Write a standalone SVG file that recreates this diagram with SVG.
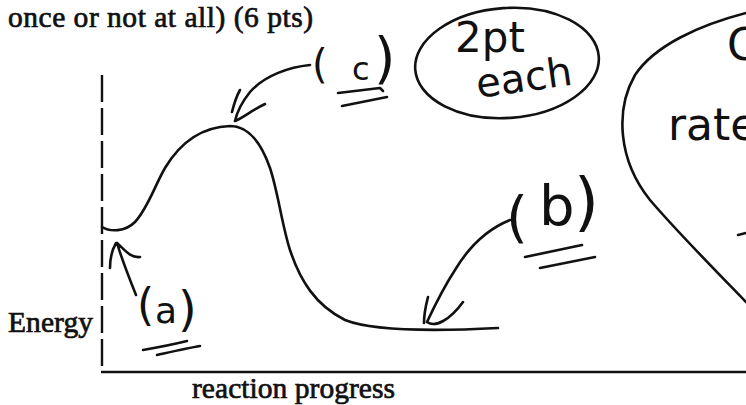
<svg xmlns="http://www.w3.org/2000/svg" width="746" height="405" viewBox="0 0 746 405">
<style>
.print{font-family:"Liberation Serif","Times New Roman",serif;font-size:29.5px;fill:#111;stroke:#111;stroke-width:0.7}
.hand{font-family:"DejaVu Sans","Liberation Sans",sans-serif;fill:#111}
.ink{fill:none;stroke:#111;stroke-width:2.6;stroke-linecap:round;stroke-linejoin:round}
.axis{fill:none;stroke:#111;stroke-width:2.4}
</style>
<rect width="746" height="405" fill="#fff"/>
<g id="heading">
<text class="print" x="8" y="27" textLength="305" lengthAdjust="spacing">once or not at all)  (6 pts)</text>
</g>
<g id="axes">
<line class="axis" x1="102" y1="75" x2="102" y2="372" stroke-dasharray="27 6"/>
<line class="axis" x1="101" y1="372" x2="746" y2="372"/>
<text class="print" x="8" y="332" textLength="85" lengthAdjust="spacing">Energy</text>
<text class="print" x="192" y="398" textLength="203" lengthAdjust="spacing">reaction progress</text>
</g>
<g id="energy-curve">
<path class="ink" stroke-width="2.2" d="M102,227 C110,232 125,232 135,222 C148,208 155,185 165,168 C180,143 200,127 230,126 C250,126 262,145 270,168 C278,192 282,225 290,250 C300,280 315,305 345,320 C375,332 440,331 498,328"/>
</g>
<g id="label-c">
<text class="hand"><tspan x="312" y="78" font-size="40">(</tspan><tspan x="352" y="80" font-size="32">c</tspan><tspan x="374" y="77" font-size="55">)</tspan></text>
<path class="ink" d="M338,93 L380,88 L383,91 M342,106 L387,97"/>
</g>
<g id="label-a">
<text class="hand"><tspan x="137" y="320" font-size="44">(</tspan><tspan x="155" y="323" font-size="36">a</tspan><tspan x="178" y="326" font-size="48">)</tspan></text>
<path class="ink" d="M143,350 C160,347 175,344 187,341 M157,355 C175,351 188,348 200,346"/>
</g>
<g id="label-b">
<text class="hand"><tspan x="506" y="236" font-size="56">(</tspan><tspan x="539" y="225" font-size="56">b</tspan><tspan x="574" y="224" font-size="64">)</tspan></text>
<path class="ink" d="M525,257 L582,245 M540,268 L595,257"/>
</g>
<g id="note-2pt-each">
<ellipse class="ink" cx="507" cy="63" rx="92" ry="55" transform="rotate(-4 507 63)"/>
<text class="hand" x="455" y="52" font-size="42">2pt</text>
<text class="hand" x="478" y="98" font-size="40" transform="rotate(-8 478 98)">each</text>
</g>
<g id="note-rate">
<path class="ink" d="M746,13 C700,25 655,45 635,75 C615,110 618,160 650,200 C680,235 720,275 746,302"/>
<text class="hand" x="727" y="60" font-size="44">C</text>
<text class="hand" x="668" y="140" font-size="44">rate</text>
<path class="ink" d="M738,235 L746,233"/>
</g>
<g id="connectors">
<path class="ink" d="M310,65 C290,67 265,75 250,92 C242,102 237,112 235,121 M232,112 C234,104 236,97 240,90 M235,121 C243,118 252,110 265,104"/>
<path class="ink" d="M136,295 C130,280 122,260 117,243 M110,268 C110,258 112,250 116,243 M117,243 C125,250 130,258 140,257"/>
<path class="ink" d="M510,220 C490,228 470,245 455,270 C442,290 435,305 427,322 M424,323 C424,312 426,305 428,297 M427,322 C435,328 450,320 463,302"/>
</g>
</svg>
